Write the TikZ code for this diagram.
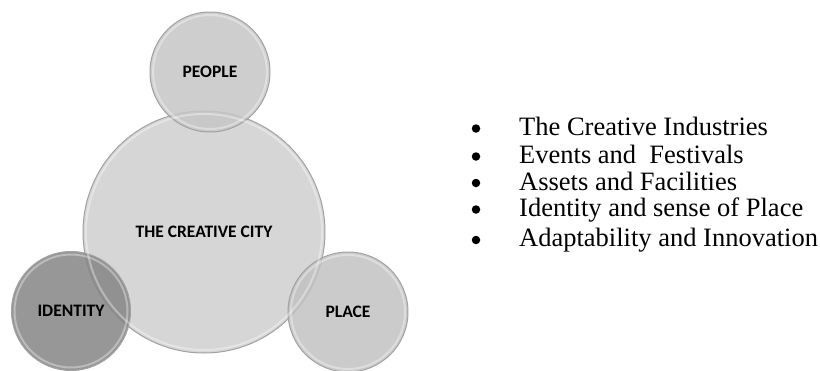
\documentclass[tikz,border=0pt]{standalone}
\usepackage{fontspec}
\setmainfont{Liberation Serif}
\newfontfamily\lblfont{Carlito}
\definecolor{cmain}{HTML}{CFCFCF}
\definecolor{cpeople}{HTML}{C6C6C6}
\definecolor{cplace}{HTML}{C2C2C2}
\definecolor{cident}{HTML}{858585}
\definecolor{cedge}{HTML}{A2A2A2}
\tikzset{
  bubble/.style={circle, draw=cedge, line width=1pt, fill opacity=0.85, inner sep=0pt, font=\lblfont\bfseries\fontsize{17.5}{20}\selectfont, text=black, text opacity=1},
  listitem/.style={anchor=base west, inner sep=0pt, font=\fontsize{26.5}{30}\selectfont},
  bul/.style={circle, fill=black, inner sep=0pt, minimum size=8.5pt}
}
\begin{document}
\begin{tikzpicture}[x=1pt,y=1pt]
\useasboundingbox (0,0) rectangle (820,-370);
\fill[white] (0,0) rectangle (820,-370);
\node[bubble, fill=cmain, minimum size=242pt] (city) at (204,-232) {THE CREATIVE CITY};
\node[bubble, fill=cpeople, minimum size=120pt] (people) at (210,-72) {PEOPLE};
\node[bubble, fill=cident, minimum size=119pt] (identity) at (71,-311) {IDENTITY};
\node[bubble, fill=cplace, minimum size=120pt] (place) at (348,-312) {PLACE};
\foreach \n/\r in {city/118, people/57, identity/56.5, place/57}{
  \draw[white, opacity=0.35, line width=2pt] (\n.center) circle (\r);
}
\node[bul] (b1) at (476,-128.5) {};
\node[bul] (b2) at (476,-156.5) {};
\node[bul] (b3) at (476,-183) {};
\node[bul] (b4) at (476,-209.5) {};
\node[bul] (b5) at (476,-240) {};
\node[listitem] (t1) at (519,-135) {The Creative Industries};
\node[listitem] (t2) at (519,-163) {Events and\ \ Festivals};
\node[listitem] (t3) at (519,-190) {Assets and Facilities};
\node[listitem] (t4) at (519,-216.5) {Identity and sense of Place};
\node[listitem] (t5) at (519,-246.5) {Adaptability and Innovation};
\end{tikzpicture}
\end{document}
